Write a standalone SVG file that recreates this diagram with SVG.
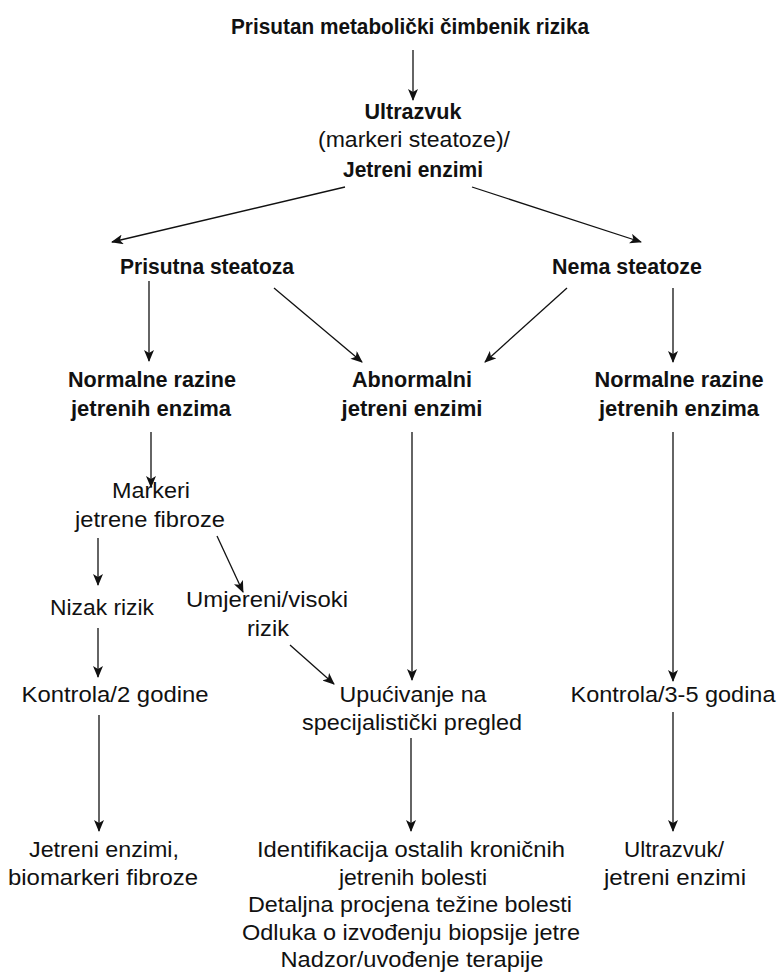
<svg xmlns="http://www.w3.org/2000/svg" width="777" height="977" viewBox="0 0 777 977">
<style>
text{font-family:"Liberation Sans",Arial,sans-serif;font-size:22px;fill:#111;text-anchor:middle}
.b{font-weight:bold}
.c line{stroke:#111;stroke-width:1.3;marker-end:url(#ah)}
</style>
<defs>
<marker id="ah" viewBox="0 0 12 10" refX="11" refY="5" markerWidth="13" markerHeight="10" markerUnits="userSpaceOnUse" orient="auto">
<path d="M0,0 L12,5 L0,10 L3,5 z" fill="#111"/>
</marker>
</defs>
<rect width="777" height="977" fill="#fff"/>
<g class="c" id="connectors">
<line x1="413" y1="50" x2="413" y2="100"/>
<line x1="345" y1="187" x2="112" y2="242"/>
<line x1="472" y1="187" x2="641" y2="242"/>
<line x1="149" y1="281" x2="149" y2="361"/>
<line x1="274" y1="288" x2="362" y2="362"/>
<line x1="567" y1="288" x2="485" y2="362"/>
<line x1="673" y1="288" x2="673" y2="362"/>
<line x1="151" y1="432" x2="151" y2="487"/>
<line x1="412" y1="432" x2="412" y2="680"/>
<line x1="673" y1="432" x2="673" y2="681"/>
<line x1="98" y1="538" x2="98" y2="585"/>
<line x1="217" y1="536" x2="243" y2="592"/>
<line x1="98" y1="628" x2="98" y2="677"/>
<line x1="290" y1="645" x2="334" y2="684"/>
<line x1="99" y1="715" x2="99" y2="831"/>
<line x1="411" y1="738" x2="411" y2="831"/>
<line x1="673" y1="712" x2="673" y2="831"/>
</g>
<g id="n1"><text class="b" x="410" y="34" textLength="358" lengthAdjust="spacingAndGlyphs">Prisutan metabolički čimbenik rizika</text></g>
<g id="n2"><text class="b" x="413" y="119" textLength="97" lengthAdjust="spacingAndGlyphs">Ultrazvuk</text><text x="414" y="147" textLength="192" lengthAdjust="spacingAndGlyphs">(markeri steatoze)/</text><text class="b" x="413" y="177" textLength="140" lengthAdjust="spacingAndGlyphs">Jetreni enzimi</text></g>
<g id="n3"><text class="b" x="207" y="274" textLength="174" lengthAdjust="spacingAndGlyphs">Prisutna steatoza</text></g>
<g id="n4"><text class="b" x="627" y="274" textLength="150" lengthAdjust="spacingAndGlyphs">Nema steatoze</text></g>
<g id="n5"><text class="b" x="152" y="387" textLength="168" lengthAdjust="spacingAndGlyphs">Normalne razine</text><text class="b" x="151" y="416" textLength="160" lengthAdjust="spacingAndGlyphs">jetrenih enzima</text></g>
<g id="n6"><text class="b" x="412" y="387" textLength="120" lengthAdjust="spacingAndGlyphs">Abnormalni</text><text class="b" x="412" y="416" textLength="141" lengthAdjust="spacingAndGlyphs">jetreni enzimi</text></g>
<g id="n7"><text class="b" x="679" y="387" textLength="169" lengthAdjust="spacingAndGlyphs">Normalne razine</text><text class="b" x="679" y="416" textLength="160" lengthAdjust="spacingAndGlyphs">jetrenih enzima</text></g>
<g id="n8"><text x="151" y="498" textLength="78" lengthAdjust="spacingAndGlyphs">Markeri</text><text x="150" y="527" textLength="150" lengthAdjust="spacingAndGlyphs">jetrene fibroze</text></g>
<g id="n9"><text x="102" y="615" textLength="104" lengthAdjust="spacingAndGlyphs">Nizak rizik</text></g>
<g id="n10"><text x="267" y="607" textLength="162" lengthAdjust="spacingAndGlyphs">Umjereni/visoki</text><text x="268" y="636" textLength="42" lengthAdjust="spacingAndGlyphs">rizik</text></g>
<g id="n11"><text x="115" y="702" textLength="187" lengthAdjust="spacingAndGlyphs">Kontrola/2 godine</text></g>
<g id="n12"><text x="413" y="702" textLength="147" lengthAdjust="spacingAndGlyphs">Upućivanje na</text><text x="412" y="730" textLength="220" lengthAdjust="spacingAndGlyphs">specijalistički pregled</text></g>
<g id="n13"><text x="673" y="702" textLength="205" lengthAdjust="spacingAndGlyphs">Kontrola/3-5 godina</text></g>
<g id="n14"><text x="104" y="857" textLength="150" lengthAdjust="spacingAndGlyphs">Jetreni enzimi,</text><text x="103" y="885" textLength="190" lengthAdjust="spacingAndGlyphs">biomarkeri fibroze</text></g>
<g id="n15"><text x="411" y="857" textLength="308" lengthAdjust="spacingAndGlyphs">Identifikacija ostalih kroničnih</text><text x="413" y="885" textLength="148" lengthAdjust="spacingAndGlyphs">jetrenih bolesti</text><text x="410" y="912" textLength="324" lengthAdjust="spacingAndGlyphs">Detaljna procjena težine bolesti</text><text x="411" y="940" textLength="338" lengthAdjust="spacingAndGlyphs">Odluka o izvođenju biopsije jetre</text><text x="412" y="967" textLength="263" lengthAdjust="spacingAndGlyphs">Nadzor/uvođenje terapije</text></g>
<g id="n16"><text x="674" y="857" textLength="100" lengthAdjust="spacingAndGlyphs">Ultrazvuk/</text><text x="675" y="885" textLength="142" lengthAdjust="spacingAndGlyphs">jetreni enzimi</text></g>
</svg>
